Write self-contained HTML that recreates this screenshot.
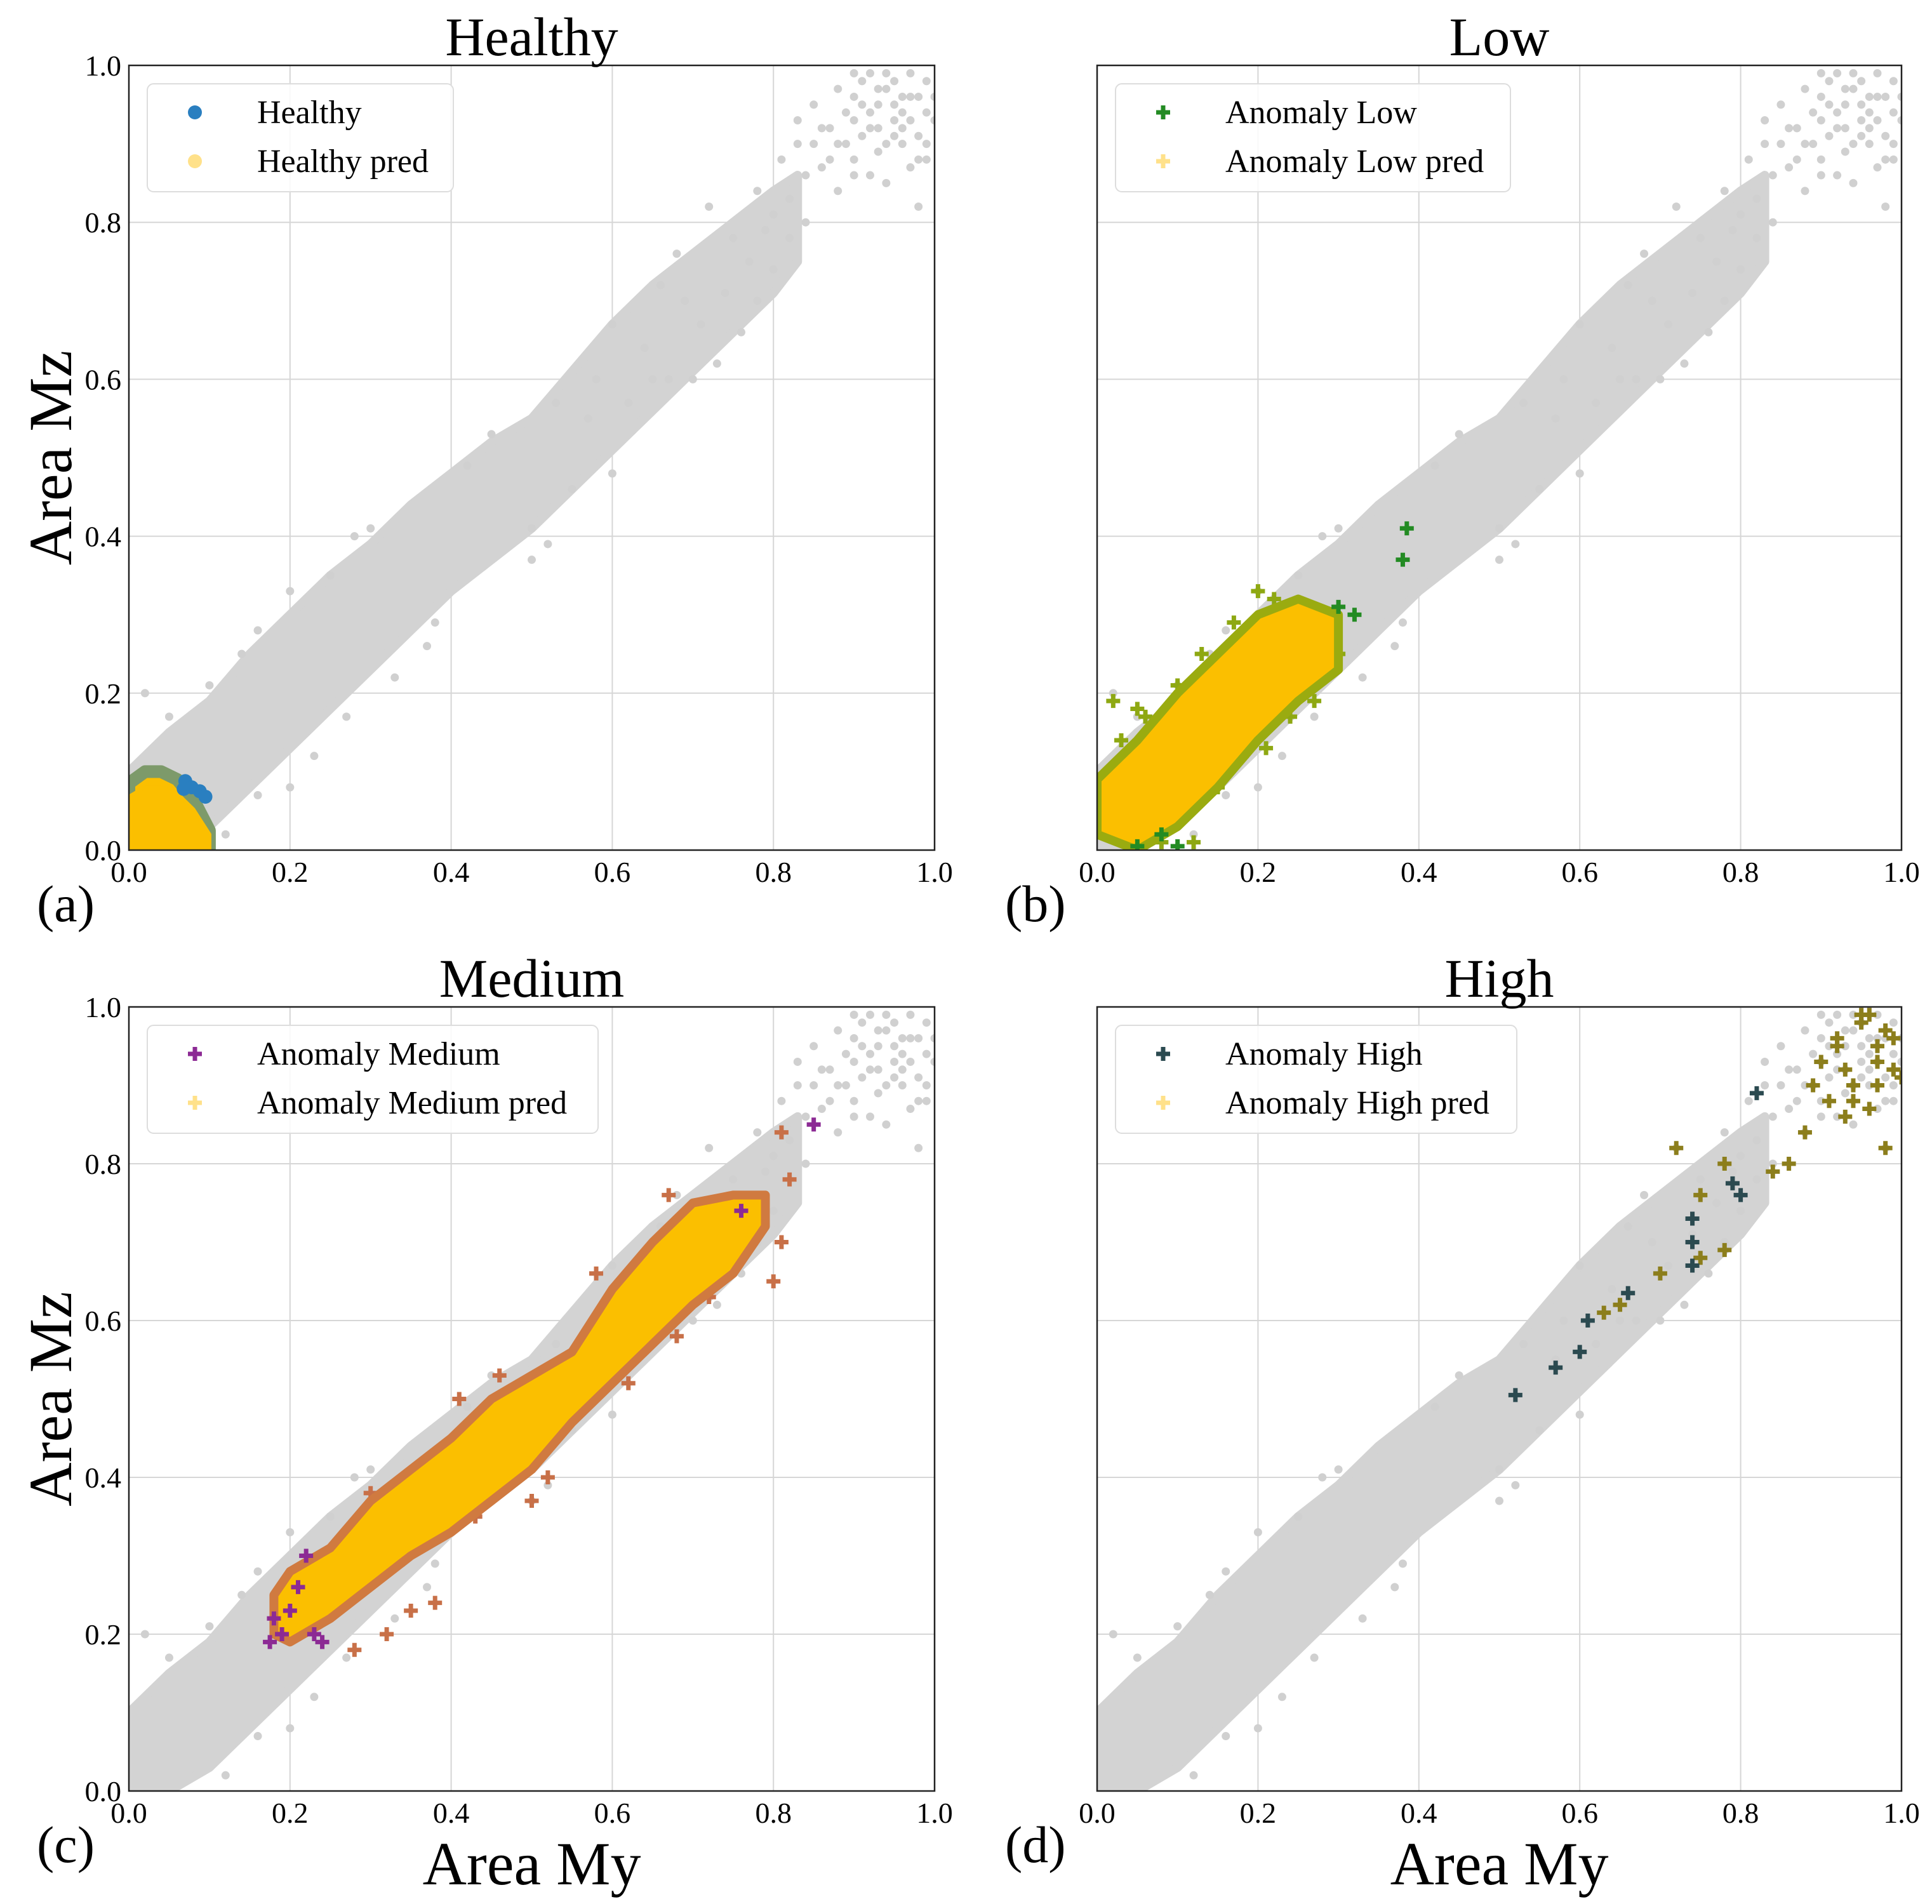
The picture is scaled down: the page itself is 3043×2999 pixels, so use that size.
<!DOCTYPE html>
<html><head><meta charset="utf-8"><style>
body{margin:0;background:#fff}
svg text{font-family:"Liberation Serif",serif;fill:#000}
</style></head><body>
<svg id="fig" xmlns="http://www.w3.org/2000/svg" width="3043" height="2994" viewBox="0 0 3043 2994"></svg>
<script>
// ---- data ----
const tickVals=[0,0.2,0.4,0.6,0.8,1.0];
const tickLabels=["0.0","0.2","0.4","0.6","0.8","1.0"];
const bandX=[0,0.05,0.1,0.15,0.2,0.25,0.3,0.35,0.4,0.45,0.5,0.55,0.6,0.65,0.7,0.75,0.8,0.83];
const bandLo=[0,0,0.03,0.08,0.13,0.18,0.23,0.28,0.33,0.37,0.41,0.46,0.51,0.56,0.61,0.66,0.71,0.75];
const bandHi=[0.1,0.15,0.19,0.25,0.3,0.35,0.39,0.44,0.48,0.52,0.55,0.61,0.67,0.72,0.76,0.8,0.84,0.86];
const grayX=[0.02,0.05,0.1,0.14,0.16,0.2,0.25,0.28,0.3,0.12,0.16,0.2,0.23,0.27,0.33,0.37,0.42,0.45,0.38,0.5,0.5,0.52,0.55,0.6,0.62,0.53,0.58,0.6,0.66,0.68,0.72,0.7,0.73,0.76,0.78,0.8,0.82,0.84,0.81,0.85,0.83,0.88,0.9,0.9,0.92,0.93,0.94,0.95,0.96,0.97,0.97,0.98,0.99,1.0,0.91,0.88,0.94,0.96,0.98,0.93,0.87,0.89,0.92,0.95,0.99,0.86,0.82,0.79,0.77,0.74,0.64,0.69,0.67,0.71,0.75,0.78,0.8,0.57,0.65,0.9,0.91,0.92,0.93,0.94,0.95,0.96,0.97,0.98,0.99,0.9,0.91,0.93,0.95,0.97,0.99,0.89,0.92,0.94,0.96,0.98,1.0,0.88,0.9,0.86,0.84,0.87,0.85,0.83],
grayY=[0.2,0.17,0.21,0.25,0.28,0.33,0.35,0.4,0.41,0.02,0.07,0.08,0.12,0.17,0.22,0.26,0.49,0.53,0.29,0.37,0.41,0.39,0.46,0.48,0.57,0.57,0.6,0.67,0.72,0.76,0.82,0.6,0.62,0.66,0.7,0.74,0.78,0.8,0.88,0.9,0.93,0.84,0.88,0.93,0.86,0.95,0.9,0.98,0.92,0.87,0.99,0.82,0.94,0.96,0.98,0.97,0.85,0.96,0.91,0.92,0.92,0.9,0.99,0.93,0.88,0.87,0.83,0.79,0.75,0.71,0.64,0.7,0.6,0.67,0.78,0.84,0.81,0.55,0.6,0.96,0.91,0.94,0.89,0.97,0.95,0.9,0.93,0.96,0.9,0.99,0.95,0.97,0.91,0.96,0.98,0.94,0.92,0.99,0.94,0.88,0.93,0.9,0.86,0.92,0.86,0.88,0.95,0.9];
// healthy
const hBandX=[0,0.02,0.04,0.06,0.08,0.1];
const hBandLo=[0,0,0,0,0,0];
const hBandHi=[0.085,0.1,0.1,0.09,0.065,0.025];
const healthyX=[0.07,0.078,0.088,0.095,0.068];
const healthyY=[0.088,0.08,0.075,0.068,0.078];
// low
const lBandX=[0,0.05,0.1,0.15,0.2,0.25,0.3];
const lBandLo=[0.02,0.0,0.03,0.08,0.14,0.19,0.23];
const lBandHi=[0.09,0.14,0.2,0.25,0.3,0.32,0.3];
const lEdgeX=[0.0,0.02,0.03,0.05,0.06,0.1,0.13,0.2,0.22,0.26,0.29,0.3,0.28,0.21,0.18,0.15,0.11,0.08,0.05,0.02,0.12,0.24,0.27,0.17,0.01];
const lEdgeY=[0.09,0.19,0.14,0.18,0.17,0.21,0.25,0.33,0.32,0.31,0.28,0.25,0.22,0.13,0.12,0.08,0.05,0.01,0.02,0.02,0.01,0.17,0.19,0.29,0.05];
const lowX=[0.385,0.38,0.32,0.3,0.05,0.1,0.08];
const lowY=[0.41,0.37,0.3,0.31,0.005,0.005,0.02];
// medium
const mBandX=[0.18,0.2,0.25,0.3,0.35,0.4,0.45,0.5,0.55,0.6,0.65,0.7,0.75,0.79];
const mBandLo=[0.2,0.19,0.22,0.26,0.3,0.33,0.37,0.41,0.47,0.52,0.57,0.62,0.66,0.72];
const mBandHi=[0.25,0.28,0.31,0.37,0.41,0.45,0.5,0.53,0.56,0.64,0.7,0.75,0.76,0.76];
const mEdgeX=[0.46,0.49,0.51,0.5,0.52,0.38,0.35,0.28,0.32,0.56,0.6,0.61,0.62,0.68,0.72,0.81,0.82,0.8,0.81,0.58,0.64,0.67,0.53,0.43,0.3,0.41];
const mEdgeY=[0.53,0.5,0.45,0.37,0.4,0.24,0.23,0.18,0.2,0.56,0.6,0.59,0.52,0.58,0.63,0.84,0.78,0.65,0.7,0.66,0.68,0.76,0.46,0.35,0.38,0.5];
const medX=[0.18,0.175,0.2,0.22,0.23,0.19,0.21,0.24,0.85,0.76];
const medY=[0.22,0.19,0.23,0.3,0.2,0.2,0.26,0.19,0.85,0.74];
// high
const highX=[0.52,0.57,0.6,0.61,0.66,0.74,0.74,0.74,0.79,0.8,0.82];
const highY=[0.505,0.54,0.56,0.6,0.635,0.67,0.7,0.73,0.775,0.76,0.89];
const hoX=[0.9,0.92,0.94,0.95,0.97,0.99,0.91,0.93,0.96,0.98,1.0,0.88,0.93,0.95,0.97,0.98,0.89,0.92,0.94,0.96,0.72,0.78,0.84,0.86,0.75,0.7,0.65,0.63,0.78,0.75,0.99,0.97];
const hoY=[0.93,0.96,0.9,0.99,0.95,0.92,0.88,0.86,0.87,0.97,0.91,0.84,0.92,0.98,0.9,0.82,0.9,0.95,0.88,0.99,0.82,0.8,0.79,0.8,0.76,0.66,0.62,0.61,0.69,0.68,0.96,0.93];

// ---- drawing ----
const NS="http://www.w3.org/2000/svg";
const svg=document.getElementById('fig');
function el(tag,attrs,parent){const e=document.createElementNS(NS,tag);for(const k in attrs)e.setAttribute(k,attrs[k]);(parent||svg).appendChild(e);return e;}
const panels=[
 {key:'a',title:'Healthy',x0:203,x1:1472,y0:103,y1:1339,ylab:true,xlab:false},
 {key:'b',title:'Low',x0:1728,x1:2995,y0:103,y1:1339,ylab:false,xlab:false},
 {key:'c',title:'Medium',x0:203,x1:1472,y0:1586,y1:2821,ylab:true,xlab:true},
 {key:'d',title:'High',x0:1728,x1:2995,y0:1586,y1:2821,ylab:false,xlab:true}];
function drawBand(g,P,xs,lo,hi,fill,stroke,sw,name){
  let pts=[];
  for(let i=0;i<xs.length;i++)pts.push(P.sx(xs[i])+','+P.sy(hi[i]));
  for(let i=xs.length-1;i>=0;i--)pts.push(P.sx(xs[i])+','+P.sy(lo[i]));
  const p=el('polygon',{points:pts.join(' '),fill:fill,stroke:stroke,'stroke-width':sw,'stroke-linejoin':'round'},g);
  
  
}
function dot(g,x,y,r,c,name){const e=el('circle',{cx:x,cy:y,r:r,fill:c},g);
  
  return e;}
function cross(g,x,y,c,name,op){const e=el('path',{d:`M${x-11},${y}H${x+11}M${x},${y-11}V${y+11}`,stroke:c,'stroke-width':7,opacity:op||1},g);
  
  return e;}
panels.forEach(pn=>{
  const P={sx:v=>pn.x0+v*(pn.x1-pn.x0),sy:v=>pn.y1-v*(pn.y1-pn.y0)};
  const g=el('g',{});
  
  
  const clip=el('clipPath',{id:'clip'+pn.key},g);
  el('rect',{x:pn.x0,y:pn.y0,width:pn.x1-pn.x0,height:pn.y1-pn.y0},clip);
  tickVals.forEach((v,i)=>{
    const gx=el('line',{x1:P.sx(v),x2:P.sx(v),y1:pn.y0,y2:pn.y1,stroke:'#d6d6d6','stroke-width':2},g);
    
    
    const gy=el('line',{x1:pn.x0,x2:pn.x1,y1:P.sy(v),y2:P.sy(v),stroke:'#d6d6d6','stroke-width':2},g);
    
    
    const tx=el('text',{x:P.sx(v),y:pn.y1+50,'font-size':46,'text-anchor':'middle'},g);tx.textContent=tickLabels[i];
    
    
    if(pn.ylab){const ty=el('text',{x:pn.x0-12,y:P.sy(v)+16,'font-size':46,'text-anchor':'end'},g);ty.textContent=tickLabels[i];
      
      }
  });
  const d=el('g',{'clip-path':`url(#clip${pn.key})`},g);
  
  
  drawBand(d,P,bandX,bandLo,bandHi,'#d3d3d3','#d3d3d3',14,'gray-cloud');
  grayX.forEach((x,i)=>dot(d,P.sx(x),P.sy(grayY[i]),6.5,'#d0d0d0','gray-point'));
  if(pn.key==='a'){
    drawBand(d,P,hBandX,hBandLo,hBandHi,'#fbbf00','#7d9a6a',20,'healthy-pred-cluster');
    drawBand(d,P,hBandX,hBandLo,hBandHi.map(v=>v*0.8),'#fbbf00','#fbbf00',6,'healthy-pred-core');
    healthyX.forEach((x,i)=>dot(d,P.sx(x),P.sy(healthyY[i]),11,'#2a7fc0','healthy-point'));
  }
  if(pn.key==='b'){
    lEdgeX.forEach((x,i)=>cross(d,P.sx(x),P.sy(lEdgeY[i]),'#8ea812','low-edge-point'));
    drawBand(d,P,lBandX,lBandLo,lBandHi,'#fbbf00','#9aab10',14,'low-pred-cluster');
    lowX.forEach((x,i)=>cross(d,P.sx(x),P.sy(lowY[i]),'#238b23','low-point'));
  }
  if(pn.key==='c'){
    mEdgeX.forEach((x,i)=>cross(d,P.sx(x),P.sy(mEdgeY[i]),'#c87048','medium-edge-point'));
    drawBand(d,P,mBandX,mBandLo,mBandHi,'#fbbf00','#d07a40',14,'medium-pred-cluster');
    medX.forEach((x,i)=>cross(d,P.sx(x),P.sy(medY[i]),'#8c2a94','medium-point'));
  }
  if(pn.key==='d'){
    hoX.forEach((x,i)=>cross(d,P.sx(x),P.sy(hoY[i]),'#8c7e1c','high-pred-point'));
    highX.forEach((x,i)=>cross(d,P.sx(x),P.sy(highY[i]),'#2b4a50','high-point'));
  }
  const fr=el('rect',{x:pn.x0,y:pn.y0,width:pn.x1-pn.x0,height:pn.y1-pn.y0,fill:'none',stroke:'#222','stroke-width':2.5},g);
  
  
  const t=el('text',{x:(pn.x0+pn.x1)/2,y:pn.y0-16,'font-size':86,'text-anchor':'middle'},g);t.textContent=pn.title;
  
  
  const lab=el('text',{x:pn.x0-145,y:pn.y1+112,'font-size':82},g);lab.textContent='('+pn.key+')';
  
  
  if(pn.ylab){const yl=el('text',{'font-size':96,'text-anchor':'middle',transform:`translate(112,${(pn.y0+pn.y1)/2}) rotate(-90)`},g);yl.textContent='Area Mz';
    
    }
  if(pn.xlab){const xl=el('text',{x:(pn.x0+pn.x1)/2,y:2968,'font-size':96,'text-anchor':'middle'},g);xl.textContent='Area My';
    
    }
  const legs={a:[['Healthy','#2a7fc0','dot'],['Healthy pred','#ffe18a','dot']],
    b:[['Anomaly Low','#238b23','cross'],['Anomaly Low pred','#ffe18a','cross']],
    c:[['Anomaly Medium','#8c2a94','cross'],['Anomaly Medium pred','#ffe18a','cross']],
    d:[['Anomaly High','#2b4a50','cross'],['Anomaly High pred','#ffe18a','cross']]}[pn.key];
  const lw={a:482,b:622,c:710,d:632}[pn.key];
  const lg=el('g',{},g);
  
  
  el('rect',{x:pn.x0+29,y:pn.y0+29,width:lw,height:170,rx:10,fill:'#fff','fill-opacity':0.85,stroke:'#ddd','stroke-width':2},lg);
  legs.forEach((L,i)=>{
    const cy=pn.y0+74+i*77, mx=pn.x0+104;
    if(L[2]==='dot')dot(lg,mx,cy,11,L[1],'legend-marker');else cross(lg,mx,cy,L[1],'legend-marker');
    const tt=el('text',{x:pn.x0+202,y:cy+17,'font-size':52},lg);tt.textContent=L[0];
    
    
  });
});
</script>
</body></html>
